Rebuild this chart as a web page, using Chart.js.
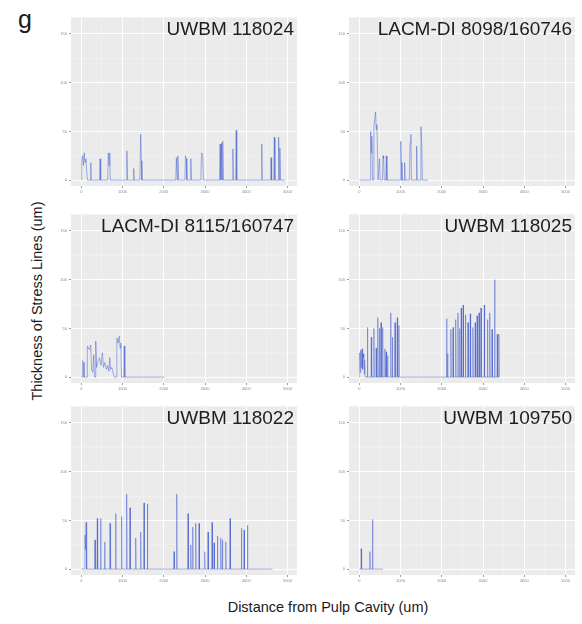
<!DOCTYPE html>
<html>
<head>
<meta charset="utf-8">
<script src="https://cdn.jsdelivr.net/npm/chart.js@4.4.1/dist/chart.umd.min.js"></script>
<style>
  body { margin: 0; background: #fff; width: 582px; height: 624px; position: relative; overflow: hidden; font-family: "Liberation Sans", Arial, sans-serif; }
  canvas { position: absolute; }
  .lbl { position: absolute; color: #1a1a1a; white-space: nowrap; }
</style>
</head>
<body>
<div class="lbl" style="left:18px;top:5px;font-size:25px;">g</div>
<div class="lbl" style="left:37px;top:301px;font-size:14.5px;transform:translate(-50%,-50%) rotate(-90deg);">Thickness of Stress Lines (um)</div>
<div class="lbl" style="left:328px;top:607px;font-size:14.5px;transform:translate(-50%,-50%);">Distance from Pulp Cavity (um)</div>
<div id="wrap"></div>
<script>
(() => {
  const panelTitles = ["UWBM 118024", "LACM-DI 8098/160746", "LACM-DI 8115/160747", "UWBM 118025", "UWBM 118022", "UWBM 109750"];

  const xMajor = [0, 1000, 2000, 3000, 4000, 5000];
  const xMinor = [500, 1500, 2500, 3500, 4500];
  const yMajor = [0, 50, 100, 150];
  const yMinor = [25, 75, 125];

  // [distance, thickness] trace vertices per specimen
  const uwbm118024 = [
    [0,0],[10,20],[30,25],[50,15],[70,28],[90,18],[110,22],[130,10],[150,0],
    [220,0],[230,18],[240,0],[440,0],[455,22],[470,0],
    [640,0],[655,28],[675,15],[690,28],[700,0],
    [1090,0],[1105,30],[1120,0],[1255,0],[1270,12],[1285,0],
    [1420,0],[1440,47],[1455,20],[1470,0],
    [2290,0],[2305,23],[2325,0],[2340,25],[2360,0],
    [2510,0],[2525,25],[2545,22],[2560,0],[2640,0],[2655,22],[2670,0],
    [2900,0],[2915,28],[2945,26],[2960,0],
    [3350,0],[3365,37],[3385,0],[3400,38],[3420,0],[3430,40],[3445,0],
    [3660,0],[3675,32],[3690,0],[3740,0],[3755,51],[3770,0],
    [4360,0],[4375,37],[4390,0],[4590,0],[4600,23],[4615,0],
    [4665,0],[4680,44],[4695,0],[4770,0],[4785,44],[4800,0],[4815,33],[4830,0],
    [4940,0]
  ];
  const lacm8098 = [
    [0,0],[260,0],[275,50],[290,28],[305,45],[320,0],[340,0],[355,55],[375,63],[395,70],
    [410,52],[425,57],[440,30],[455,0],[475,0],[490,22],[505,0],[560,0],[575,25],[590,22],
    [605,0],[640,0],[655,25],[670,0],[990,0],[1005,40],[1020,18],[1035,0],[1090,0],[1100,18],
    [1110,0],[1215,0],[1230,38],[1250,47],[1265,0],[1375,0],[1390,35],[1405,0],
    [1480,0],[1495,55],[1515,37],[1530,0],[1665,0]
  ];
  const lacm8115 = [
    [0,0],[20,0],[25,17],[60,15],[65,0],[140,0],[146,32],[200,28],[228,33],[250,8],[280,5],
    [300,23],[320,0],[340,0],[350,37],[370,10],[400,15],[440,20],[480,12],[510,25],[540,10],
    [570,15],[610,8],[640,12],[670,6],[690,20],[710,8],[740,10],[770,5],[800,0],[855,0],
    [862,40],[890,35],[919,42],[940,30],[959,35],[975,0],[1030,0],[1041,32],[1055,0],[2016,0]
  ];
  const uwbm118025 = [
    [0,0],[5,18],[15,25],[25,5],[35,28],[45,10],[55,26],[70,29],[80,8],[95,24],[110,20],[120,3],[130,18],[140,0],
    [190,0],[197,51],[205,0],[283,0],[291,41],[300,0],[346,0],[354,50],[362,0],
    [400,0],[409,30],[418,0],[440,0],[449,61],[458,0],[480,0],[488,50],[496,0],
    [519,0],[527,56],[535,0],[559,0],[567,51],[575,0],[614,0],[622,29],[630,0],
    [645,0],[653,26],[661,0],[677,0],[685,22],[693,0],[755,0],[763,66],[771,0],
    [795,0],[803,41],[811,0],[858,0],[866,56],[874,0],[913,0],[921,61],[929,0],
    [952,0],[960,53],[968,0],[2101,0],
    [2109,0],[2117,60],[2125,0],[2133,0],[2141,24],[2149,0],
    [2212,0],[2220,49],[2228,0],[2266,0],[2274,51],[2282,0],
    [2329,0],[2337,59],[2345,0],[2384,0],[2392,66],[2400,0],
    [2424,0],[2432,50],[2440,0],[2463,0],[2471,71],[2479,0],
    [2510,0],[2518,74],[2526,0],[2565,0],[2573,64],[2581,0],
    [2628,0],[2636,56],[2644,0],[2683,0],[2691,65],[2699,0],
    [2746,0],[2754,51],[2762,0],[2802,0],[2810,56],[2818,0],
    [2849,0],[2857,63],[2865,0],[2896,0],[2904,66],[2912,0],
    [2943,0],[2951,71],[2959,0],[3022,0],[3030,74],[3038,0],
    [3100,0],[3108,59],[3116,0],[3155,0],[3163,66],[3171,0],
    [3211,0],[3219,49],[3227,0],[3274,0],[3282,100],[3290,0],
    [3337,0],[3345,44],[3353,0],[3376,0],[3384,44],[3392,0],[3400,0]
  ];
  const uwbm118022 = [
    [0,0],[80,0],[89,35],[100,20],[115,48],[130,0],
    [324,0],[332,30],[340,0],[380,0],[388,52],[396,0],[461,0],[469,52],[477,0],
    [558,0],[566,28],[574,0],[688,0],[696,47],[705,43],[713,0],
    [825,0],[833,57],[841,0],[971,0],[979,54],[987,0],
    [1092,0],[1100,77],[1108,0],[1173,0],[1181,63],[1189,0],
    [1311,0],[1319,32],[1327,0],[1432,0],[1440,38],[1448,0],
    [1513,0],[1521,68],[1529,0],[1594,0],[1602,67],[1610,0],
    [2241,0],[2249,18],[2257,0],[2306,0],[2314,77],[2322,0],
    [2581,0],[2589,57],[2597,0],[2646,0],[2654,25],[2662,0],
    [2694,0],[2702,43],[2710,0],[2767,0],[2775,47],[2783,0],
    [2848,0],[2856,47],[2864,0],[2985,0],[2993,18],[3001,0],
    [3066,0],[3074,38],[3082,0],[3163,0],[3171,48],[3179,0],
    [3213,0],[3221,27],[3229,0],[3293,0],[3301,34],[3309,0],
    [3374,0],[3382,32],[3390,0],[3414,0],[3422,30],[3430,0],
    [3495,0],[3503,28],[3511,0],[3600,0],[3608,52],[3616,0],
    [3875,0],[3883,42],[3891,0],[3940,0],[3948,40],[3956,0],
    [4021,0],[4029,45],[4037,0],[4636,0]
  ];
  const uwbm109750 = [
    [0,0],[40,0],[47,21],[55,0],[250,0],[257,18],[265,0],[312,0],[320,51],[328,0],[570,0]
  ];

  const series = [uwbm118024, lacm8098, lacm8115, uwbm118025, uwbm118022, uwbm109750];

  // layout: canvas left/top per panel
  const colLeft = [55, 333];
  const rowTop = [13, 210, 402];
  const yAxisW = 16, xAxisH = 12;
  const areaW = 226, areaH = 173;

  const bgPlugin = {
    id: "panelBg",
    beforeDraw(chart) {
      const a = chart.chartArea, c = chart.ctx;
      c.save();
      c.fillStyle = "#ebebeb";
      c.fillRect(a.left, a.top, a.right - a.left, a.bottom - a.top);
      c.restore();
    },
    afterDraw(chart, args, opts) {
      const a = chart.chartArea, c = chart.ctx;
      c.save();
      c.font = '19px "Liberation Sans", Arial, sans-serif';
      c.fillStyle = "#1e1e1e";
      c.textAlign = "right";
      c.textBaseline = "alphabetic";
      c.fillText(opts.text, a.right - 3, a.top + 18);
      c.restore();
    }
  };

  const gridOpts = (major) => ({
    color: (ctx) => ctx.tick && major.includes(ctx.tick.value) ? "#ffffff" : "rgba(255,255,255,0.55)",
    lineWidth: (ctx) => ctx.tick && major.includes(ctx.tick.value) ? 1 : 0.5,
    tickColor: (ctx) => ctx.tick && major.includes(ctx.tick.value) ? "#9a9a9a" : "rgba(0,0,0,0)",
    tickLength: 2,
    drawTicks: true
  });

  const wrap = document.getElementById("wrap");
  series.forEach((pts, i) => {
    const canvas = document.createElement("canvas");
    canvas.width = yAxisW + areaW;
    canvas.height = areaH + xAxisH;
    canvas.style.left = colLeft[i % 2] + "px";
    canvas.style.top = rowTop[Math.floor(i / 2)] + "px";
    wrap.appendChild(canvas);

    new Chart(canvas, {
      type: "scatter",
      data: {
        datasets: [{
          data: pts.map(([x, y]) => ({ x, y })),
          showLine: true,
          borderColor: "rgba(62,88,206,0.62)",
          borderWidth: 0.75,
          pointRadius: 0,
          tension: 0
        }]
      },
      options: {
        responsive: false,
        animation: false,
        layout: { padding: 0 },
        plugins: { legend: { display: false }, tooltip: { enabled: false }, panelBg: { text: panelTitles[i] } },
        scales: {
          x: {
            type: "linear",
            min: -250,
            max: 5230,
            afterBuildTicks: (s) => { s.ticks = [...xMajor, ...xMinor].sort((a, b) => a - b).map((v) => ({ value: v })); },
            afterFit: (s) => { s.height = xAxisH; },
            border: { display: false },
            grid: gridOpts(xMajor),
            ticks: {
              autoSkip: false, maxRotation: 0, padding: 1,
              font: { size: 4 }, color: "#8a8a8a",
              callback: (v) => xMajor.includes(v) ? String(v) : ""
            }
          },
          y: {
            min: -6,
            max: 167,
            afterBuildTicks: (s) => { s.ticks = [...yMajor, ...yMinor].sort((a, b) => a - b).map((v) => ({ value: v })); },
            afterFit: (s) => { s.width = yAxisW; },
            border: { display: false },
            grid: gridOpts(yMajor),
            ticks: {
              autoSkip: false, padding: 2,
              font: { size: 4 }, color: "#8a8a8a",
              callback: (v) => yMajor.includes(v) ? String(v) : ""
            }
          }
        }
      },
      plugins: [bgPlugin]
    });
  });
})();
</script>
</body>
</html>
